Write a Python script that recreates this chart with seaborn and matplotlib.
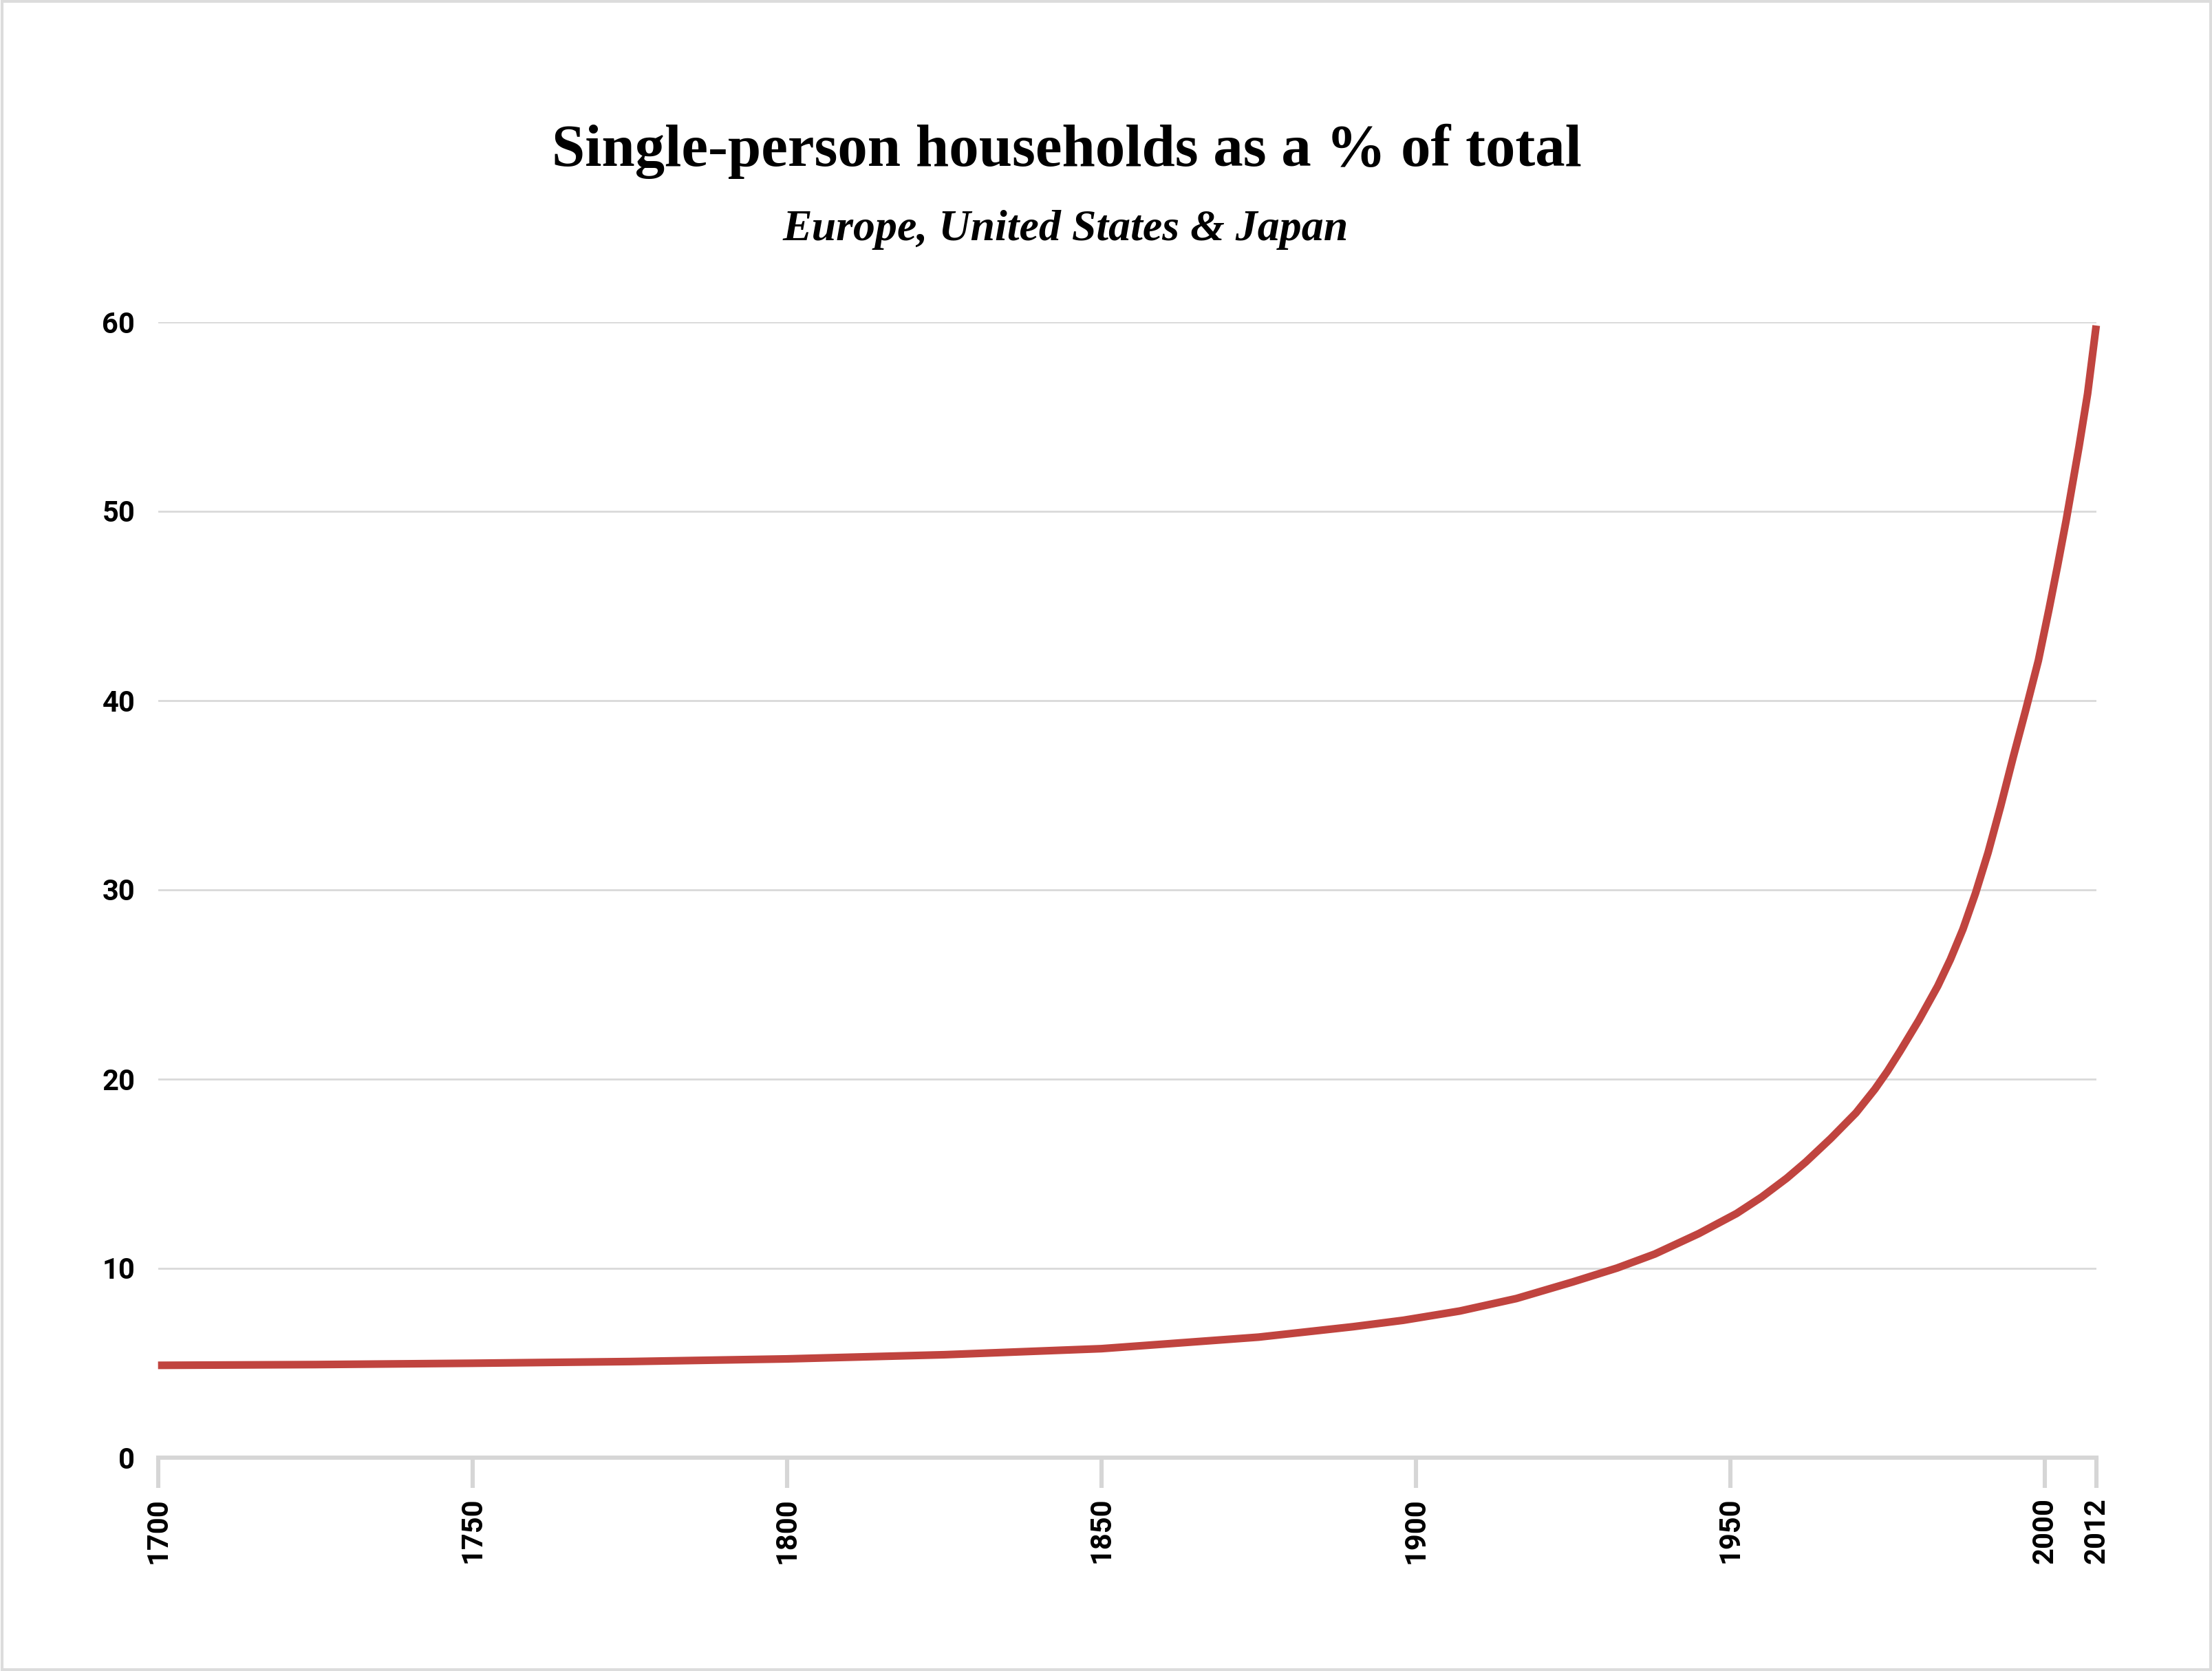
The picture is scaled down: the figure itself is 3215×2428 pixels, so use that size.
import numpy as np
import pandas as pd
import matplotlib
matplotlib.use("Agg")
import matplotlib.pyplot as plt
import seaborn as sns

# ---- data ----
years = [1700, 1725, 1750, 1775, 1800, 1825, 1850, 1875, 1890, 1898, 1907, 1916,
         1925, 1932, 1938, 1945, 1951, 1955, 1959, 1962, 1966, 1970, 1973, 1975,
         1977, 1980, 1983, 1985, 1987, 1989, 1991, 1993, 1995, 1997, 1999, 2001,
         2003, 2005, 2008, 2010, 2012]
share = [4.86, 4.90, 4.97, 5.06, 5.20, 5.42, 5.74, 6.35, 6.90, 7.24, 7.73, 8.39,
         9.27, 10.0, 10.74, 11.82, 12.88, 13.75, 14.75, 15.6, 16.85, 18.2, 19.45, 20.4,
         21.45, 23.1, 24.9, 26.3, 27.9, 29.8, 31.95, 34.4, 37.0, 39.5, 42.1, 44.8,
         47.1, 49.5, 53.4, 56.2, 59.8]
x_ticks = [1700, 1750, 1800, 1850, 1900, 1950, 2000, 2012]
y_ticks = [0, 10, 20, 30, 40, 50, 60]
title = "Single-person households as a % of total"
subtitle = "Europe, United States & Japan"

df = pd.DataFrame({"year": years, "share": share})

sns.set_theme(style="white")
plt.rcParams["font.family"] = ["Roboto", "DejaVu Sans"]

W, H, DPI = 3216, 2428, 200
fig = plt.figure(figsize=(W / DPI, H / DPI), dpi=DPI)
fig.patch.set_facecolor("white")

ax = fig.add_axes([229.7 / W, 1 - 2117.5 / H, 2817 / W, 1650 / H])

# the reference's time axis is compressed after 2000
K = 0.683
def fwd(x):
    x = np.asarray(x, dtype=float)
    return np.where(x <= 2000, x, 2000 + (x - 2000) * K)
def inv(x):
    x = np.asarray(x, dtype=float)
    return np.where(x <= 2000, x, 2000 + (x - 2000) / K)
ax.set_xscale("function", functions=(fwd, inv))

sns.lineplot(data=df, x="year", y="share", ax=ax, color="#c0443f",
             linewidth=4.0, solid_capstyle="butt", solid_joinstyle="round",
             clip_on=False, zorder=3)

ax.set_xlim(1700, 2012)
ax.set_ylim(0, 60)
ax.set_xticks(x_ticks)
ax.set_xticklabels([str(t) for t in x_ticks], rotation=90, fontsize=15,
                   fontweight="bold", color="black")
ax.set_yticks(y_ticks)
ax.set_yticklabels([str(t) for t in y_ticks], fontsize=15,
                   fontweight="bold", color="black")
ax.set_xlabel("")
ax.set_ylabel("")

ax.yaxis.grid(True, color="#d9d9d9", linewidth=1.0)
ax.xaxis.grid(False)
ax.set_axisbelow(True)
for s in ["top", "right", "left"]:
    ax.spines[s].set_visible(False)
ax.spines["bottom"].set_color("#d6d6d6")
ax.spines["bottom"].set_linewidth(2.2)
ax.tick_params(axis="x", length=16, width=2.2, color="#d6d6d6", pad=5, direction="out",
               bottom=True)
ax.tick_params(axis="y", length=0, pad=12)
ax.patch.set_alpha(0)

fig.text(1550 / W, 1 - 241 / H, title, ha="center", va="baseline",
         fontsize=31.3, fontweight="bold", family=["Liberation Serif", "DejaVu Serif"],
         color="black")
fig.text(1549 / W, 1 - 349 / H, subtitle, ha="center", va="baseline",
         fontsize=23, fontweight="bold", style="italic",
         family=["Liberation Serif", "DejaVu Serif"], color="black")

# light frame around the image
fig.add_artist(plt.Rectangle((0.001, 0.001), 0.998, 0.998, transform=fig.transFigure,
                             fill=False, edgecolor="#dcdcdc", linewidth=1.5))

fig.savefig("out.png", dpi=DPI, facecolor="white")
